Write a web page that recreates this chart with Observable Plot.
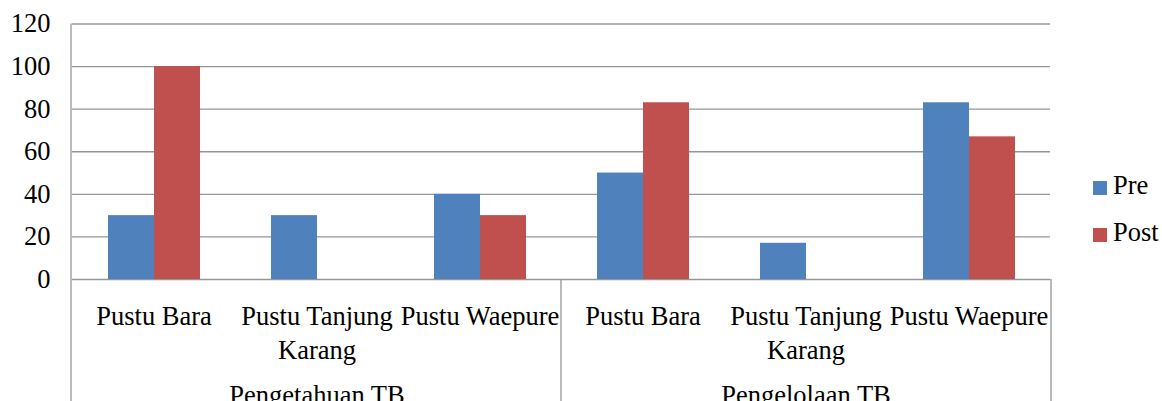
<!DOCTYPE html>
<html><head><meta charset="utf-8">
<script src="https://cdn.jsdelivr.net/npm/d3@7"></script>
<script src="https://cdn.jsdelivr.net/npm/@observablehq/plot@0.6"></script>
<style>
body{margin:0;background:#fff;}
#wrap{position:relative;width:1162px;height:401px;overflow:hidden;font-family:"Liberation Serif","DejaVu Serif",serif;}
#wrap svg, #wrap svg text{font-family:"Liberation Serif","DejaVu Serif",serif !important;}
#legend{position:absolute;left:1093px;top:162px;font-size:26.5px;color:#000;}
#legend .item{display:flex;align-items:center;height:47px;}
#legend .sw{width:14px;height:14px;margin-right:6px;margin-top:4px;}
</style></head><body><div id="wrap"><div id="legend"></div></div>
<script>
const groups = ["Pengetahuan TB", "Pengelolaan TB"];
const sites = ["Pustu Bara", "Pustu Tanjung Karang", "Pustu Waepure"];
const siteLabels = ["Pustu Bara", "Pustu Tanjung\nKarang", "Pustu Waepure"];
const series = ["Pre", "Post"];
const preValues = [30, 30, 40, 50, 17, 83];
const postValues = [100, 0, 30, 83, 0, 67];
const yTicks = [0, 20, 40, 60, 80, 100, 120];
const colors = ["#4F81BD", "#C0504D"];

const W = 1162, H = 401, mL = 71, mR = 111, mT = 23.5, mB = 122;

const keys = [], cats = [], data = [], groupRows = [];
groups.forEach((g, gi) => {
  sites.forEach((s, si) => {
    const key = g + "|" + s;
    const idx = gi * sites.length + si;
    keys.push(key);
    cats.push({key, label: siteLabels[si]});
    data.push({key, series: "Pre", value: preValues[idx]});
    data.push({key, series: "Post", value: postValues[idx]});
    if (si === 1) groupRows.push({key, label: g});
  });
});

const chart = Plot.plot({
  width: W, height: H,
  marginLeft: mL, marginRight: mR, marginTop: mT, marginBottom: mB,
  style: {fontFamily: "'Liberation Serif', 'DejaVu Serif', serif", fontSize: "26.5px", background: "white", color: "black", overflow: "visible"},
  fx: {domain: keys, axis: null, padding: 0},
  x: {domain: series, axis: null, paddingInner: 0, paddingOuter: 0.74},
  y: {domain: [0, 120], ticks: yTicks, tickSize: 0, tickPadding: 22, label: null},
  color: {domain: series, range: colors},
  marks: [
    Plot.ruleY(yTicks, {stroke: "#969696", strokeWidth: 1.3}),
    Plot.barY(data, {fx: "key", x: "series", y: "value", fill: "series"}),
    Plot.text(cats, {fx: "key", text: "label", frameAnchor: "bottom", lineAnchor: "top", dy: 21, lineHeight: 1.28, fontSize: 26.5, fill: "black"}),
    Plot.text(groupRows, {fx: "key", text: "label", frameAnchor: "bottom", lineAnchor: "top", dy: 106, fontSize: 26.5, fill: "black"})
  ]
});

const svg = d3.select(chart);
const y0 = H - mB;
const xMid = mL + (W - mL - mR) / 2;
const lines = [
  {x: mL, y1: mT, y2: H},
  {x: xMid, y1: y0, y2: H},
  {x: W - mR, y1: y0, y2: H}
];
svg.append("g").selectAll("line").data(lines).join("line")
  .attr("x1", d => d.x).attr("x2", d => d.x)
  .attr("y1", d => d.y1).attr("y2", d => d.y2)
  .attr("stroke", "#969696").attr("stroke-width", 1.3);

document.getElementById("wrap").prepend(chart);

const legend = d3.select("#legend");
series.forEach((s, i) => {
  const item = legend.append("div").attr("class", "item");
  item.append("div").attr("class", "sw").style("background", colors[i]);
  item.append("span").text(s);
});
</script>
</body></html>
